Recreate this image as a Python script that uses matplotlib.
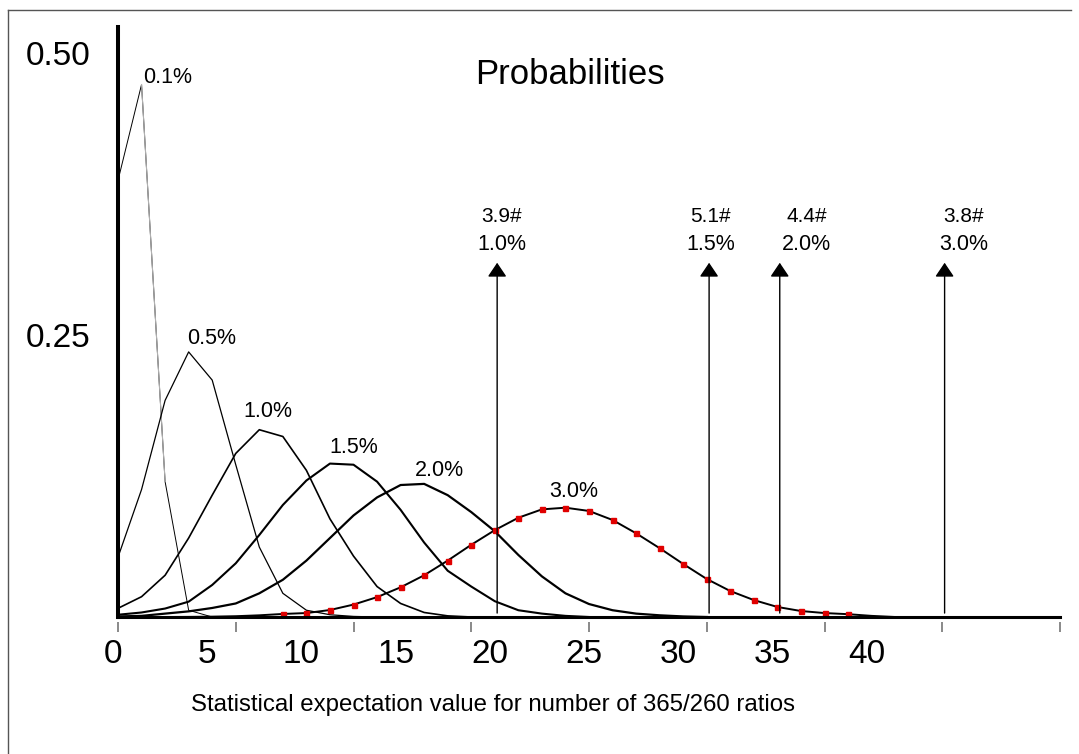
import matplotlib
matplotlib.use("Agg")
import matplotlib.pyplot as plt
from matplotlib.patches import ArrowStyle
from matplotlib.lines import Line2D
from matplotlib.transforms import ScaledTranslation
import numpy as np

plt.rcParams['font.family'] = ['Liberation Sans', 'DejaVu Sans']

# ---- data (x = position index along the category axis) ----
p01 = [0.387, 0.472, 0.120, 0.006, 0.0, 0.0]
p05 = [0.053, 0.113, 0.192, 0.235, 0.210, 0.135, 0.062, 0.021, 0.006, 0.002, 0.0005, 0.0]
p10 = [0.0077, 0.018, 0.037, 0.070, 0.108, 0.145, 0.166, 0.160, 0.130, 0.087,
       0.054, 0.027, 0.012, 0.004, 0.001, 0.0]
p15 = [0.002, 0.004, 0.0075, 0.0136, 0.0284, 0.0476, 0.0727, 0.0993, 0.121, 0.136,
       0.135, 0.120, 0.095, 0.066, 0.041, 0.027, 0.014, 0.006, 0.003, 0.001, 0.0]
p20 = [0.0005, 0.001, 0.003, 0.005, 0.008, 0.012, 0.021, 0.033, 0.050, 0.070,
       0.090, 0.106, 0.117, 0.118, 0.108, 0.093, 0.076, 0.055, 0.036, 0.021,
       0.0115, 0.006, 0.003, 0.0015, 0.0005, 0.0]
p30 = [0.0, 0.0, 0.0, 0.0001, 0.0003, 0.0007, 0.0015, 0.0027, 0.0035, 0.0062,
       0.011, 0.0176, 0.0263, 0.037, 0.050, 0.064, 0.077, 0.088, 0.0954, 0.0969,
       0.094, 0.086, 0.0742, 0.061, 0.047, 0.0337, 0.023, 0.015, 0.0089, 0.0053,
       0.0035, 0.0025, 0.001, 0.0, 0.0, 0.0, 0.0, 0.0, 0.0, 0.0, 0.0]
curve_labels = ["0.1%", "0.5%", "1.0%", "1.5%", "2.0%", "3.0%"]

# arrows: position index, expectation count, rate
arrow_x = [16.1, 25.1, 28.1, 35.1]
arrow_count = ["3.9#", "5.1#", "4.4#", "3.8#"]
arrow_rate = ["1.0%", "1.5%", "2.0%", "3.0%"]

xtick_values = [0, 5, 10, 15, 20, 25, 30, 35, 40]
ytick_values = [0.25, 0.50]
ytick_labels = ["0.25", "0.50"]

# ---- figure ----
W, H = 1079, 754
fig = plt.figure(figsize=(W / 100, H / 100), dpi=100)
ax = fig.add_axes([118 / W, (H - 617) / H, (1060 - 118) / W, (617 - 27) / H])

def xs(arr):
    return np.arange(len(arr))

ax.plot(xs(p01), p01, color='black', lw=0.7)
ax.plot(xs(p01)[1:3], p01[1:3], color='#b0b0b0', lw=0.8)
ax.plot(xs(p05), p05, color='black', lw=0.9)
ax.plot(xs(p10), p10, color='black', lw=1.2)
ax.plot(xs(p15), p15, color='black', lw=1.5)
ax.plot(xs(p20), p20, color='black', lw=1.6)
ax.plot(xs(p30), p30, color='black', lw=1.4, marker='s', markersize=3.6,
        markerfacecolor='#e00000', markeredgecolor='#e00000',
        markevery=list(range(7, 32)))

# curve labels
lab_pos = [(1.06, 0.478, 'left'), (3.98, 0.247, 'center'), (6.36, 0.182, 'center'),
           (10.0, 0.150, 'center'), (13.64, 0.130, 'center'), (19.36, 0.111, 'center')]
for lbl, (lx, ly, ha) in zip(curve_labels, lab_pos):
    ax.text(lx, ly, lbl, fontsize=15.5, ha=ha, va='center')

# arrows
astyle = ArrowStyle('-|>', head_length=0.43, head_width=0.29)
txt_dx = [0.2, 0.05, 1.15, 0.8]
for ax_x, cnt, rate, dx in zip(arrow_x, arrow_count, arrow_rate, txt_dx):
    ax.annotate('', xy=(ax_x, 0.314), xytext=(ax_x, 0.0035),
                arrowprops=dict(arrowstyle=astyle, mutation_scale=20, lw=1.0,
                                color='black', shrinkA=0, shrinkB=0))
    ax.text(ax_x + dx, 0.355, cnt, fontsize=15, ha='center', va='center')
    ax.text(ax_x + dx, 0.330, rate, fontsize=15.5, ha='center', va='center')

# spines
for s in ['top', 'right']:
    ax.spines[s].set_visible(False)
ax.spines['left'].set_linewidth(2.9)
ax.spines['bottom'].set_linewidth(2.2)

# y ticks
ax.set_yticks(ytick_values, ytick_labels)
ax.tick_params(axis='y', length=0, pad=20, labelsize=24)

# x ticks: unlabeled grey marks every 5 positions, labels placed separately
ax.set_xticks([])
tick_pos = np.arange(0, 41, 5)
ax.vlines(tick_pos, -0.026, -0.008, transform=ax.get_xaxis_transform(),
          colors='#808080', lw=1.3, clip_on=False)
lab_off = ax.get_xaxis_transform() + ScaledTranslation(-5 / 100, 0, fig.dpi_scale_trans)
for v in xtick_values:
    ax.text(v * 0.8, -0.038, str(v), transform=lab_off, fontsize=24,
            ha='center', va='top', clip_on=False)

ax.set_xlim(0, 40)
ax.set_ylim(0, 0.523)

fig.text(570 / W, 1 - 75 / H, "Probabilities", fontsize=25, ha='center', va='center')
fig.text(493 / W, 1 - 705 / H, "Statistical expectation value for number of 365/260 ratios",
         fontsize=17.3, ha='center', va='center')

# outer frame
fig.add_artist(Line2D([8 / W, 8 / W], [0, 1 - 10 / H], transform=fig.transFigure,
                      color='#555555', lw=1))
fig.add_artist(Line2D([8 / W, 1071 / W], [1 - 10 / H, 1 - 10 / H], transform=fig.transFigure,
                      color='#555555', lw=1))

fig.savefig("out.png", dpi=100)
